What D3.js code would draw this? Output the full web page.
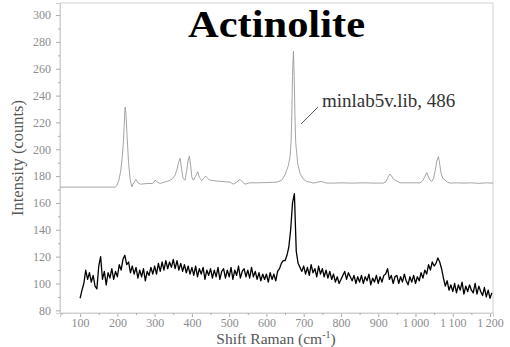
<!DOCTYPE html>
<html>
<head>
<meta charset="utf-8">
<script src="https://cdn.jsdelivr.net/npm/d3@7/dist/d3.min.js"></script>
<style>
  html, body { margin: 0; padding: 0; background: #fff; }
  svg { display: block; }
</style>
</head>
<body>
<svg id="chart" width="510" height="347"></svg>
<script>
// ---------- DATA ----------
const chartTitle = "Actinolite";
const annotationText = "minlab5v.lib, 486";
const xTitle = "Shift Raman (cm";
const yTitle = "Intensity (counts)";

const xMajorTicks = [100,200,300,400,500,600,700,800,900,1000,1100,1200];
const yMajorTicks = [80,100,120,140,160,180,200,220,240,260,280,300];

// Reference library spectrum (grey): [shift, intensity]
const refSpectrum = [
  [46,171.8],[194,171.8],[199,173],[204,177],[209,184],[213,194],[216,205],[218,216],
  [220,228],[221,231.5],[223,226],[226,210],[230,190],[234,178],[238.6,172],[244,175],
  [250,177.6],[255,175],[262,174],[280,174.5],[295,174.5],[301,177],[308,175.5],[315,174.5],
  [325,175.5],[333,176],[341.5,177],[348,178],[355,180.8],[360,185],[364,190],[368.3,193.3],
  [372,186],[376,178.5],[381.7,177],[386,184],[390,192],[393.3,195],[397,187],[400,179],
  [404,177],[410,180],[415.7,183.3],[420,179],[426.4,176.6],[432,178.5],[437.2,180],[443,178],
  [448.8,177],[470,176.2],[490,175.8],[502.4,175.5],[511.4,174],[520,175.5],[529.3,177.6],[536,175.5],
  [542.7,174],[555,175],[575,175],[600,175.2],[628,175.5],[641,177],[650,181],[654.5,184.5],
  [659,188],[663.4,194.5],[666,205],[668,225],[670,255],[672.4,273],[674.5,255],[676.5,225],
  [678.5,205],[681.3,197],[684,189],[690.3,182],[698,178],[708.2,176],[717,175.5],[726,174.8],
  [737,175.5],[748.4,176],[755,175.3],[761.8,174.8],[780,174.8],[800,175],[830,174.8],[860,175],
  [890,174.8],[914,174.8],[921,176],[926,179],[931.8,181.6],[936,180],[940,178],[945.2,177],
  [952,176],[958.6,175],[975,175],[995,175],[1012.3,175],[1019,176.5],[1025,179.5],[1030.1,182.6],
  [1034,180],[1039,177],[1043.6,176],[1048,178],[1053,184],[1057,191],[1061.4,194.5],[1064,191],
  [1068,183],[1073,178.5],[1079.3,177],[1086,175.5],[1092.7,174.8],[1110,175],[1130,174.8],[1150,175],
  [1170,174.6],[1190,175],[1208,174.8]
];

// Measured sample spectrum (black): start 100 cm-1, one value every 5 cm-1
const sampleStart = 100;
const sampleStep = 5;
const sampleIntensity = [
  89,95,100,110,103,108,101,106,98,96,
  113,120,103,109,99,108,104,111,103,109,
  105,114,110,118,121,114,116,108,113,107,
  112,104,110,105,111,102,109,106,112,107,
  113,107,115,109,116,110,117,111,116,112,
  118,111,117,110,115,109,114,108,113,107,
  112,106,113,105,111,107,112,103,110,106,
  111,104,110,105,112,103,109,111,104,110,
  105,112,103,110,106,113,104,109,111,105,
  110,104,112,105,109,103,108,102,107,103,
  107,101,108,103,107,102,109,111,115,117,
  117,121,127,140,160,167,124,115,112,109,
  113,107,112,106,114,108,111,105,113,107,
  111,105,110,104,109,103,107,101,105,100,
  103,106,109,103,108,105,102,106,100,105,
  101,106,100,105,102,107,99,104,101,106,
  100,105,101,106,107,111,103,106,100,105,
  106,100,105,101,107,102,99,105,101,106,
  100,105,102,108,104,110,107,114,110,116,
  113,115,119,116,111,104,98,102,95,99,
  94,100,93,99,95,101,92,98,94,99,
  95,93,100,92,98,94,91,97,90,95,
  89,93
];

// ---------- LAYOUT ----------
const plot = {left: 60, right: 493, top: 3, bottom: 313};
const svg = d3.select("#chart");

const x = d3.scaleLinear().domain([46, 1208]).range([plot.left, plot.right]);
const y = d3.scaleLinear().domain([78, 309]).range([plot.bottom, plot.top]);

const serif = "'Liberation Serif', 'Times New Roman', serif";

// frame
svg.append("rect")
  .attr("x", plot.left).attr("y", plot.top)
  .attr("width", plot.right - plot.left).attr("height", plot.bottom - plot.top)
  .attr("fill", "none").attr("stroke", "#d0d0d0").attr("stroke-width", 1);

svg.append("clipPath").attr("id", "clip")
  .append("rect")
  .attr("x", plot.left).attr("y", plot.top)
  .attr("width", plot.right - plot.left).attr("height", plot.bottom - plot.top);

// axes
const fmt = d => d >= 1000 ? Math.floor(d/1000) + "\u2009" + String(d % 1000).padStart(3, "0") : String(d);

const xMinor = d3.range(50, 1201, 100);
const yMinor = d3.range(90, 301, 20);

const gx = svg.append("g").attr("transform", `translate(0,${plot.bottom})`)
  .call(d3.axisBottom(x).tickValues(xMajorTicks).tickFormat(fmt).tickSize(4).tickPadding(1));
const gxm = svg.append("g").attr("transform", `translate(0,${plot.bottom})`)
  .call(d3.axisBottom(x).tickValues(xMinor).tickFormat("").tickSize(2));
const gy = svg.append("g").attr("transform", `translate(${plot.left},0)`)
  .call(d3.axisLeft(y).tickValues(yMajorTicks).tickSize(4).tickPadding(5));
const gym = svg.append("g").attr("transform", `translate(${plot.left},0)`)
  .call(d3.axisLeft(y).tickValues(yMinor).tickFormat("").tickSize(2));

[gx, gxm, gy, gym].forEach(g => {
  g.select(".domain").attr("stroke", "#d0d0d0");
  g.selectAll(".tick line").attr("stroke", "#aaa");
  g.selectAll(".tick text").attr("fill", "#8c8c8c")
    .style("font-family", serif).style("font-size", "12px");
});

// lines
const line = d3.line().x(d => x(d[0])).y(d => y(d[1]));
const sampleData = sampleIntensity.map((v, i) => [sampleStart + i * sampleStep, v]);

const lines = svg.append("g").attr("clip-path", "url(#clip)");
lines.append("path").datum(refSpectrum)
  .attr("d", line).attr("fill", "none")
  .attr("stroke", "#9a9a9a").attr("stroke-width", 0.9);
lines.append("path").datum(sampleData)
  .attr("d", line).attr("fill", "none")
  .attr("stroke", "#000").attr("stroke-width", 1.3).attr("stroke-linejoin", "round");

// title
svg.append("text")
  .attr("x", 276.5).attr("y", 37)
  .attr("text-anchor", "middle")
  .attr("textLength", 177).attr("lengthAdjust", "spacingAndGlyphs")
  .style("font-family", serif).style("font-weight", "bold").style("font-size", "38px")
  .attr("fill", "#000")
  .text(chartTitle);

// annotation
svg.append("line")
  .attr("x1", 301).attr("y1", 124).attr("x2", 318).attr("y2", 107)
  .attr("stroke", "#444").attr("stroke-width", 0.9);
svg.append("text")
  .attr("x", 322).attr("y", 107)
  .style("font-family", serif).style("font-size", "19px")
  .attr("fill", "#333")
  .text(annotationText);

// axis titles
const xt = svg.append("text")
  .attr("x", 276).attr("y", 344)
  .attr("text-anchor", "middle")
  .style("font-family", serif).style("font-size", "15.5px")
  .attr("fill", "#555");
xt.append("tspan").text(xTitle);
xt.append("tspan").attr("dy", -6).style("font-size", "10px").text("-1");
xt.append("tspan").attr("dy", 6).text(")");

svg.append("text")
  .attr("transform", `translate(23,158) rotate(-90)`)
  .attr("text-anchor", "middle")
  .style("font-family", serif).style("font-size", "16.5px")
  .attr("fill", "#555")
  .text(yTitle);
</script>
</body>
</html>
